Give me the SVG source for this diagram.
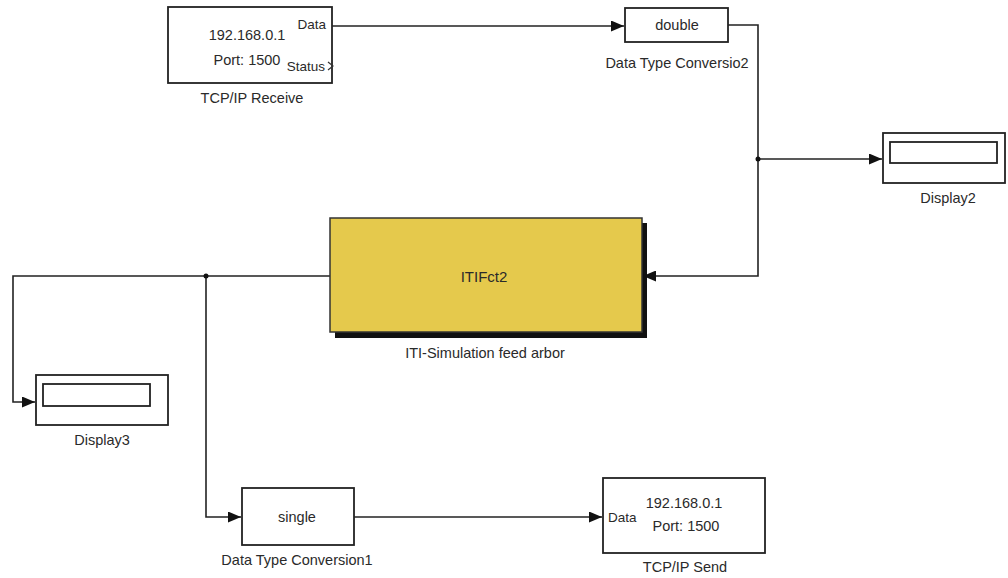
<svg xmlns="http://www.w3.org/2000/svg" width="1008" height="578" viewBox="0 0 1008 578">
<defs>
<marker id="arr" viewBox="0 0 13 11" refX="13" refY="5.5" markerWidth="13" markerHeight="11" markerUnits="userSpaceOnUse" orient="auto">
<path d="M0,0 L13,5.5 L0,11 Z" fill="#111"/>
</marker>
</defs>
<style>
.blk{fill:#fff;stroke:#222;stroke-width:1.8}
.inner{fill:#fff;stroke:#222;stroke-width:1.8}
.wire{fill:none;stroke:#222;stroke-width:1.6}
text{font-family:"Liberation Sans",Arial,sans-serif;font-size:14.5px;fill:#2a2a2a}
.c{text-anchor:middle}
.sm{font-size:13.5px}
</style>
<rect width="1008" height="578" fill="#fff"/>
<g id="connectors">
<path class="wire" d="M332,26 H624" marker-end="url(#arr)"/>
<path class="wire" d="M728,25 H758 V276 H643" marker-end="url(#arr)"/>
<path class="wire" d="M758,159 H882" marker-end="url(#arr)"/>
<path class="wire" d="M330,276 H13 V402 H35" marker-end="url(#arr)"/>
<path class="wire" d="M206,276 V517 H241" marker-end="url(#arr)"/>
<path class="wire" d="M354,517 H602" marker-end="url(#arr)"/>
<circle cx="758" cy="159" r="2.5" fill="#111"/>
<circle cx="206" cy="276" r="2.5" fill="#111"/>
</g>
<g id="tcpip-receive">
<rect class="blk" x="168" y="7" width="164" height="76"/>
<text class="c" x="247" y="40">192.168.0.1</text>
<text class="c" x="247" y="65">Port: 1500</text>
<text x="326" y="29" text-anchor="end" class="sm">Data</text>
<text x="325" y="71" text-anchor="end" class="sm">Status</text>
<path d="M328,62 L333,66 L328,70" fill="none" stroke="#333" stroke-width="1.2"/>
<text class="c" x="252" y="103">TCP/IP Receive</text>
</g>
<g id="dtc2">
<rect class="blk" x="625" y="8" width="103" height="34"/>
<text class="c" x="677" y="30">double</text>
<text class="c" x="677" y="68">Data Type Conversio2</text>
</g>
<g id="display2">
<rect class="blk" x="883" y="133" width="122" height="50"/>
<rect class="inner" x="890" y="142" width="107" height="21"/>
<text class="c" x="948" y="203">Display2</text>
</g>
<g id="itifct2">
<rect x="335" y="223" width="312" height="115" fill="#111"/>
<rect x="330" y="218" width="312" height="114" fill="#E5C94C" stroke="#333" stroke-width="1.5"/>
<text class="c" x="484" y="282" style="font-size:15px">ITIFct2</text>
<text class="c" x="485" y="358">ITI-Simulation feed arbor</text>
</g>
<g id="display3">
<rect class="blk" x="36" y="375" width="132" height="50"/>
<rect class="inner" x="43" y="384" width="107" height="22"/>
<text class="c" x="102" y="445">Display3</text>
</g>
<g id="dtc1">
<rect class="blk" x="242" y="488" width="112" height="57"/>
<text class="c" x="297" y="522">single</text>
<text class="c" x="297" y="565">Data Type Conversion1</text>
</g>
<g id="tcpip-send">
<rect class="blk" x="603" y="478" width="162" height="75"/>
<text x="608" y="522" class="sm">Data</text>
<text class="c" x="684" y="508">192.168.0.1</text>
<text class="c" x="686" y="531">Port: 1500</text>
<text class="c" x="685" y="572">TCP/IP Send</text>
</g>
</svg>
